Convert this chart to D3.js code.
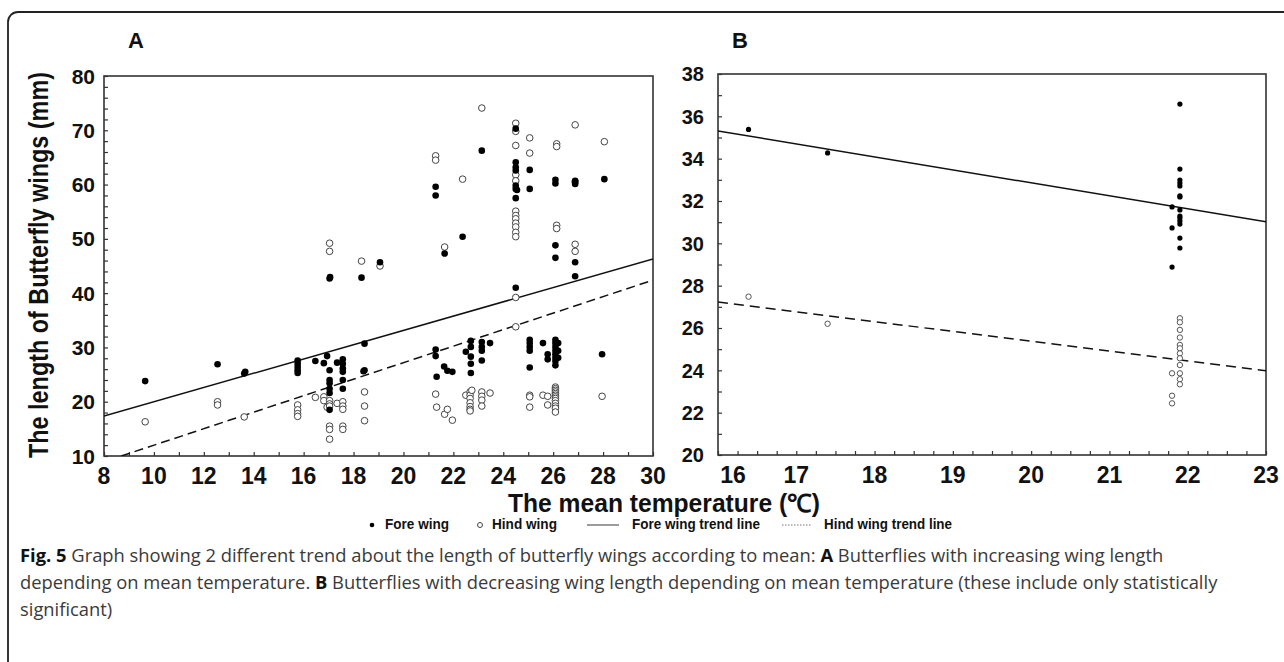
<!DOCTYPE html>
<html><head><meta charset="utf-8">
<script src="https://cdn.jsdelivr.net/npm/d3@7"></script>
<style>body{margin:0;background:#fff}svg{display:block}</style>
</head><body>
<svg id="c" width="1284" height="662"></svg>
<script>
// ---------- DATA ----------
// Panel A : [mean temperature (°C), wing length (mm)]
const aFore = [
 [9.65,23.8],[12.55,26.9],[13.62,25.2],[13.66,25.5],
 [15.76,27.6],[15.76,27.0],[15.76,26.4],[15.76,25.8],[15.76,25.3],
 [16.47,27.5],[16.81,27.1],[16.94,28.4],
 [17.04,42.7],[17.06,42.95],[17.04,25.8],[17.04,24.0],[17.04,23.4],[17.04,22.4],[17.04,21.6],[17.04,18.5],
 [17.34,27.2],
 [17.57,27.8],[17.57,27.0],[17.57,26.1],[17.57,25.5],[17.57,24.0],[17.57,22.4],
 [18.32,42.85],[18.44,30.7],[18.44,25.8],[18.40,25.6],[19.06,45.7],
 [21.29,59.6],[21.29,58.0],[21.29,29.6],[21.29,28.4],[21.33,24.6],
 [21.65,47.3],[21.63,26.5],[21.76,25.7],[21.96,25.5],[22.37,50.4],
 [22.5,29.2],[22.7,30.1],[22.7,31.2],[22.7,28.3],[22.7,27.0],[22.7,25.3],
 [23.14,66.25],[23.14,31.0],[23.14,30.1],[23.14,29.4],[23.14,27.6],[23.47,30.8],
 [24.5,70.3],[24.5,64.1],[24.5,63.2],[24.5,62.6],[24.5,59.8],[24.5,59.2],[24.5,57.5],[24.5,41.0],[24.55,59.0],
 [25.06,62.7],[25.06,59.2],[25.06,31.4],[25.06,30.8],[25.06,30.1],[25.06,29.4],[25.06,26.3],
 [25.59,30.8],[25.78,28.75],[25.78,27.8],
 [26.09,60.9],[26.09,60.2],[26.09,48.8],[26.09,46.5],[26.09,31.4],[26.09,30.8],[26.09,30.1],[26.09,29.4],
 [26.09,28.75],[26.09,28.1],[26.09,27.5],[26.09,26.7],[26.2,30.8],[26.2,29.4],[26.2,28.1],
 [26.88,60.7],[26.88,60.1],[26.88,45.7],[26.88,43.1],[28.05,61.0],[27.96,28.75]
];
const aHind = [
 [9.65,16.3],[12.55,20.0],[12.55,19.4],[13.62,17.2],
 [15.76,19.4],[15.76,18.5],[15.76,17.8],[15.76,17.3],
 [16.47,20.8],[16.81,20.9],[16.81,20.2],[16.94,19.0],
 [17.04,49.2],[17.04,47.7],[17.04,20.2],[17.04,19.6],[17.04,19.2],[17.04,15.5],[17.04,14.9],[17.04,13.1],
 [17.34,19.7],[17.57,20.0],[17.57,19.2],[17.57,18.6],[17.57,15.5],[17.57,14.9],
 [18.32,45.9],[18.44,21.8],[18.44,19.2],[18.44,16.5],[19.06,45.0],
 [21.29,65.3],[21.29,64.5],[21.29,21.4],[21.33,19.0],
 [21.65,48.5],[21.65,17.7],[21.76,18.6],[21.96,16.6],[22.37,61.0],
 [22.5,21.2],[22.67,21.8],[22.67,21.2],[22.67,20.6],[22.67,19.8],[22.67,19.1],[22.67,18.6],[22.67,18.3],[22.74,22.1],
 [23.14,74.1],[23.14,21.8],[23.14,21.0],[23.14,20.3],[23.14,19.2],[23.47,21.6],
 [24.5,71.3],[24.5,69.8],[24.5,67.2],[24.5,61.8],[24.5,60.7],[24.5,55.1],[24.5,54.3],[24.5,53.7],
 [24.5,52.9],[24.5,52.2],[24.5,51.2],[24.5,50.4],[24.5,39.2],[24.5,33.8],
 [25.06,68.6],[25.06,65.8],[25.06,21.2],[25.06,20.9],[25.06,19.0],
 [25.59,21.2],[25.78,21.0],[25.78,19.4],
 [26.14,67.5],[26.14,67.0],[26.14,52.5],[26.14,51.9],
 [26.09,22.7],[26.09,22.4],[26.09,22.1],[26.09,21.8],[26.09,21.5],[26.09,21.2],[26.09,20.9],
 [26.09,20.6],[26.09,20.2],[26.09,19.7],[26.09,19.2],[26.09,18.8],[26.09,18.1],
 [26.88,71.0],[26.88,60.5],[26.88,49.0],[26.88,47.7],[28.05,67.9],[27.96,21.0]
];
const aForeTrend = [[8,17.35],[30,46.3]];
const aHindTrend = [[8.69,10],[30,42.4]];
const aXTicks = [8,10,12,14,16,18,20,22,24,26,28,30];
const aYTicks = [10,20,30,40,50,60,70,80];

// Panel B
const bFore = [
 [16.39,35.38],[17.40,34.27],
 [21.8,31.72],[21.8,30.73],[21.8,28.88],
 [21.9,36.58],[21.9,33.51],[21.9,32.99],[21.9,32.85],[21.9,32.71],[21.9,32.24],[21.9,32.19],
 [21.9,31.58],[21.9,31.29],[21.9,31.2],[21.9,31.06],[21.9,30.91],[21.9,30.25],[21.9,29.78]
];
const bHind = [
 [16.39,27.48],[17.40,26.2],
 [21.8,23.86],[21.8,22.8],[21.8,22.44],
 [21.9,26.46],[21.9,26.27],[21.9,25.91],[21.9,25.55],[21.9,25.2],[21.9,25.04],[21.9,24.8],
 [21.9,24.57],[21.9,24.25],[21.9,23.86],[21.9,23.58],[21.9,23.34]
];
const bForeTrend = [[16,35.31],[23,31.02]];
const bHindTrend = [[16,27.23],[23,23.98]];
const bXTicks = [16,17,18,19,20,21,22,23];
const bYTicks = [20,22,24,26,28,30,32,34,36,38];

const legendItems = ["Fore wing","Hind wing","Fore wing trend line","Hind wing trend line"];
const captionLines = [
 [["Fig. 5",true],[" Graph showing 2 different trend about the length of butterfly wings according to mean: ",false],["A",true],[" Butterflies with increasing wing length",false]],
 [["depending on mean temperature. ",false],["B",true],[" Butterflies with decreasing wing length depending on mean temperature (these include only statistically",false]],
 [["significant)",false]]
];

// ---------- DRAW ----------
const svg = d3.select('#c');
const FONT = "'Liberation Sans Narrow','Liberation Sans',Arial,sans-serif";
const TICKFONT = "'Liberation Sans',Arial,sans-serif";
svg.append('rect').attr('x',8).attr('y',12).attr('width',1500).attr('height',900)
  .attr('rx',10).attr('fill','none').attr('stroke','#222').attr('stroke-width',1.8);

function panel(o){
  const x = d3.scaleLinear().domain(o.xd).range([o.l,o.r]);
  const y = d3.scaleLinear().domain(o.yd).range([o.b,o.t]);
  const g = svg.append('g');
  const cid = 'clip'+o.id;
  svg.append('clipPath').attr('id',cid).append('rect')
    .attr('x',o.l).attr('y',o.t).attr('width',o.r-o.l).attr('height',o.b-o.t);
  const xt = d3.range(o.xd[0], o.xd[1]+1e-9, o.xStep);
  const yt = d3.range(o.yd[0], o.yd[1]+1e-9, o.yStep);
  g.append('g').attr('transform',`translate(0,${o.b})`)
    .call(d3.axisBottom(x).tickValues(xt).tickSize(-o.tick).tickFormat(''))
    .call(s=>s.select('.domain').remove())
    .call(s=>s.selectAll('line').attr('stroke','#333').attr('stroke-width',1.2));
  g.append('g').attr('transform',`translate(${o.l},0)`)
    .call(d3.axisLeft(y).tickValues(yt).tickSize(-o.tick).tickFormat(''))
    .call(s=>s.select('.domain').remove())
    .call(s=>s.selectAll('line').attr('stroke','#333').attr('stroke-width',1.2));
  g.append('rect').attr('x',o.l).attr('y',o.t).attr('width',o.r-o.l).attr('height',o.b-o.t)
    .attr('fill','none').attr('stroke','#333').attr('stroke-width',1.6);
  g.selectAll('.xl').data(o.xTicks).join('text')
    .attr('x',(d,i)=> x(d) + (o.firstShift && i===0 ? o.firstShift : 0))
    .attr('y',o.b+28).attr('text-anchor','middle')
    .attr('font-family',TICKFONT).attr('font-weight','bold')
    .attr('font-size',o.xfs).attr('fill','#111').text(d=>d);
  g.selectAll('.yl').data(o.yTicks).join('text')
    .attr('x',o.l-o.ylGap).attr('y',d=>y(d)).attr('dy','0.36em').attr('text-anchor','end')
    .attr('font-family',TICKFONT).attr('font-weight','bold')
    .attr('font-size',o.yfs).attr('fill','#111').text(d=>d);
  g.append('text').attr('x',o.letterX).attr('y',48).text(o.id)
    .attr('font-family',TICKFONT).attr('font-weight','bold')
    .attr('font-size',22).attr('fill','#111');
  const line = d3.line().x(d=>x(d[0])).y(d=>y(d[1]));
  const pg = g.append('g').attr('clip-path',`url(#${cid})`);
  pg.append('path').datum(o.foreTrend).attr('d',line).attr('fill','none')
    .attr('stroke','#111').attr('stroke-width',1.5);
  pg.append('path').datum(o.hindTrend).attr('d',line).attr('fill','none')
    .attr('stroke','#111').attr('stroke-width',1.5).attr('stroke-dasharray',o.dash);
  pg.selectAll('.h').data(o.hind).join('circle')
    .attr('cx',d=>x(d[0])).attr('cy',d=>y(d[1])).attr('r',o.rh)
    .attr('fill','#fff').attr('stroke',o.hc).attr('stroke-width',1);
  pg.selectAll('.f').data(o.fore).join('circle')
    .attr('cx',d=>x(d[0])).attr('cy',d=>y(d[1])).attr('r',o.rf)
    .attr('fill','#000');
}

panel({id:'A', xd:[8,30], yd:[10,80], l:104, r:653, t:76, b:456,
  xStep:1, yStep:2, tick:4, xTicks:aXTicks, yTicks:aYTicks, xfs:23, yfs:21, ylGap:9,
  letterX:128, fore:aFore, hind:aHind, foreTrend:aForeTrend, hindTrend:aHindTrend,
  dash:'9,5', rf:3.3, rh:3.3, hc:'#444'});
panel({id:'B', xd:[16,23], yd:[20,38], l:718, r:1266, t:74, b:455,
  xStep:0.25, yStep:1, tick:4, xTicks:bXTicks, yTicks:bYTicks, xfs:23, yfs:20, ylGap:14,
  firstShift:15, letterX:732, fore:bFore, hind:bHind, foreTrend:bForeTrend, hindTrend:bHindTrend,
  dash:'10,6', rf:2.6, rh:2.7, hc:'#555'});

// axis titles
svg.append('text').attr('transform','translate(48,265) rotate(-90)')
  .attr('text-anchor','middle').attr('font-family',FONT).attr('font-weight','bold')
  .attr('font-size',27).attr('fill','#111')
  .attr('textLength',386).attr('lengthAdjust','spacingAndGlyphs')
  .text('The length of Butterfly wings (mm)');
svg.append('text').attr('x',664).attr('y',512).attr('text-anchor','middle')
  .attr('font-family',FONT).attr('font-weight','bold').attr('font-size',25).attr('fill','#111')
  .attr('textLength',312).attr('lengthAdjust','spacingAndGlyphs')
  .text('The mean temperature (℃)');

// legend
const lg = svg.append('g').attr('font-family',FONT).attr('font-weight','bold')
  .attr('font-size',14).attr('fill','#111');
const ly = 529;
lg.append('circle').attr('cx',372).attr('cy',ly-4).attr('r',2.3).attr('fill','#000');
lg.append('circle').attr('cx',480).attr('cy',ly-4).attr('r',2.5).attr('fill','none').attr('stroke','#444');
lg.append('line').attr('x1',587).attr('x2',619).attr('y1',ly-4).attr('y2',ly-4).attr('stroke','#666').attr('stroke-width',1.3);
lg.append('line').attr('x1',782).attr('x2',811).attr('y1',ly-4).attr('y2',ly-4).attr('stroke','#777').attr('stroke-width',1).attr('stroke-dasharray','1.5,1.5');
const lpos = [[385,64],[492,65],[632,128],[824,128]];
lg.selectAll('.lt').data(legendItems).join('text')
  .attr('x',(d,i)=>lpos[i][0]).attr('y',ly)
  .attr('textLength',(d,i)=>lpos[i][1]).attr('lengthAdjust','spacingAndGlyphs')
  .text(d=>d);

// caption: one common horizontal condensing factor, fitted on the longest line
const cg = svg.append('g').attr('font-family',"'Open Sans',sans-serif").attr('font-size',18).attr('fill','#333');
const capTexts = captionLines.map((ln,i)=>{
  const t = cg.append('text').attr('x',0).attr('y',0);
  ln.forEach(([s,b])=>t.append('tspan').attr('font-weight',b?'bold':'normal').attr('fill',b?'#111':'#3a3a3a').text(s));
  return t;
});
const sx = 1198 / capTexts[1].node().getComputedTextLength();
capTexts.forEach((t,i)=>t.attr('transform',`translate(20,${562+i*27}) scale(${sx},1)`));
</script>
</body></html>
